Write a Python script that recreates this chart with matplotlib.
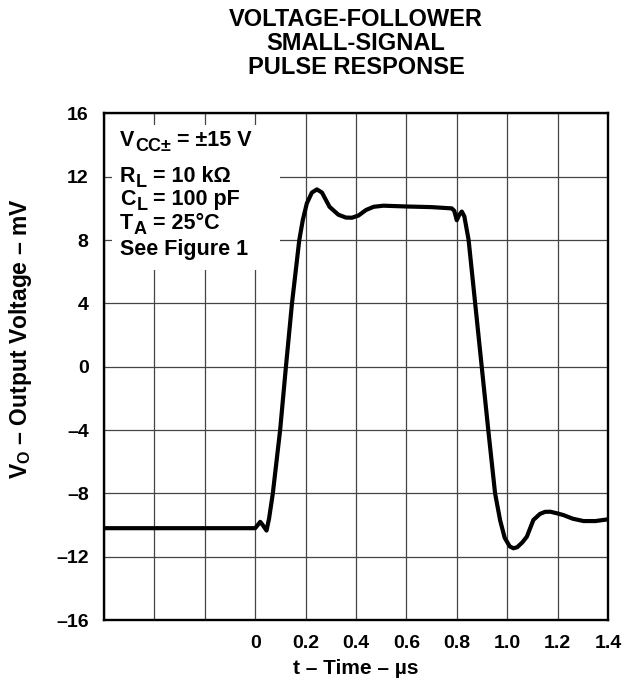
import matplotlib
matplotlib.use('Agg')
import matplotlib.pyplot as plt
from matplotlib.patches import Rectangle

# readings (time in us, output in mV)
t_us = [-0.6, 0.0, 0.01, 0.02, 0.03, 0.045, 0.055, 0.070, 0.099, 0.122, 0.146,
        0.175, 0.189, 0.205, 0.225, 0.245, 0.265, 0.295, 0.33, 0.36, 0.384,
        0.41, 0.44, 0.47, 0.509, 0.6, 0.7, 0.78, 0.79, 0.80, 0.81, 0.82, 0.83,
        0.847, 0.873, 0.899, 0.925, 0.952, 0.972, 0.99, 1.01, 1.025, 1.04,
        1.06, 1.078, 1.104, 1.13, 1.15, 1.171, 1.195, 1.223, 1.26, 1.303,
        1.35, 1.4]
vo_mv = [-10.2, -10.2, -10.0, -9.8, -10.0, -10.35, -9.6, -8.0, -4.0, 0.0, 4.0,
         8.0, 9.27, 10.32, 11.0, 11.2, 11.0, 10.1, 9.6, 9.42, 9.41,
         9.55, 9.9, 10.1, 10.17, 10.12, 10.08, 10.0, 9.85, 9.25, 9.6, 9.8, 9.5,
         8.0, 4.0, 0.0, -4.0, -8.0, -9.7, -10.8, -11.35, -11.47, -11.4,
         -11.1, -10.74, -9.68, -9.3, -9.17, -9.16, -9.25, -9.37, -9.6, -9.75,
         -9.75, -9.64]

x_ticks = [-0.6, -0.4, -0.2, 0.0, 0.2, 0.4, 0.6, 0.8, 1.0, 1.2, 1.4]
x_labels = ['', '', '', '0', '0.2', '0.4', '0.6', '0.8', '1.0', '1.2', '1.4']
y_ticks = [-16, -12, -8, -4, 0, 4, 8, 12, 16]

title_lines = ['VOLTAGE-FOLLOWER', 'SMALL-SIGNAL', 'PULSE RESPONSE']
# (text, is_subscript) pieces of each condition line
conditions = [[('V', False), ('CC\u00b1', True), (' = \u00b115 V', False)],
              [('R', False), ('L', True), (' = 10 k\u03a9', False)],
              [('C', False), ('L', True), (' = 100 pF', False)],
              [('T', False), ('A', True), (' = 25\u00b0C', False)],
              [('See Figure 1', False)]]
cond_y = [13.95, 11.65, 10.2, 8.7, 7.05]

plt.rcParams['font.family'] = ['Liberation Sans', 'DejaVu Sans']
plt.rcParams['font.weight'] = 'bold'
plt.rcParams['mathtext.fontset'] = 'custom'
plt.rcParams['mathtext.rm'] = 'Liberation Sans:bold'
plt.rcParams['mathtext.it'] = 'Liberation Sans:bold'
plt.rcParams['mathtext.bf'] = 'Liberation Sans:bold'


def cond_line(ax, x, y, parts):
    base = ax.text(x, y, parts[0][0], fontsize=15.5, va='baseline', zorder=3)
    prev = base
    for txt, sub in parts[1:]:
        if sub:
            prev = ax.annotate(txt, xy=(1, 0), xycoords=(prev, base),
                               xytext=(0.5, -3), textcoords='offset points',
                               va='bottom', fontsize=13, zorder=3)
        else:
            prev = ax.annotate(txt, xy=(1, 0), xycoords=(prev, base),
                               va='bottom', fontsize=15.5, zorder=3)


fig = plt.figure(figsize=(6.28, 6.86), dpi=100)
ax = fig.add_axes([0.1656, 0.0962, 0.8025, 0.7385])

ax.set_xlim(-0.6, 1.4)
ax.set_ylim(-16, 16)
ax.set_xticks(x_ticks)
ax.set_xticklabels(x_labels)
ax.set_yticks(y_ticks)
ax.set_yticklabels(['\u2013' + str(-v) if v < 0 else str(v) for v in y_ticks])
ax.tick_params(length=0, labelsize=14, pad=11)
ax.grid(True, color='#444444', linewidth=0.9)
ax.set_axisbelow(True)
for s in ax.spines.values():
    s.set_linewidth(1.7)

# white patch behind the conditions text
ax.add_patch(Rectangle((-0.567, 6.13), 0.666, 9.14, facecolor='white',
                       edgecolor='none', zorder=1.5))
for parts, yy in zip(conditions, cond_y):
    cond_line(ax, -0.536, yy, parts)

ax.plot(t_us, vo_mv, color='black', linewidth=3.0, solid_joinstyle='round',
        solid_capstyle='round', zorder=2.5)

ax.set_xlabel('t \u2013 Time \u2013 \u00b5s', fontsize=15, fontweight='bold', labelpad=5)
ax.set_ylabel('$V_O$ \u2013 Output Voltage \u2013 mV', fontsize=16.5, fontweight='bold')
ax.yaxis.set_label_coords(-0.138, 0.555)

for i, line in enumerate(title_lines):
    fig.text(0.567, 1 - (26.4 + 24 * i) / 686, line, ha='center', va='baseline',
             fontsize=17, fontweight='bold')

fig.savefig('out.png', dpi=100)
